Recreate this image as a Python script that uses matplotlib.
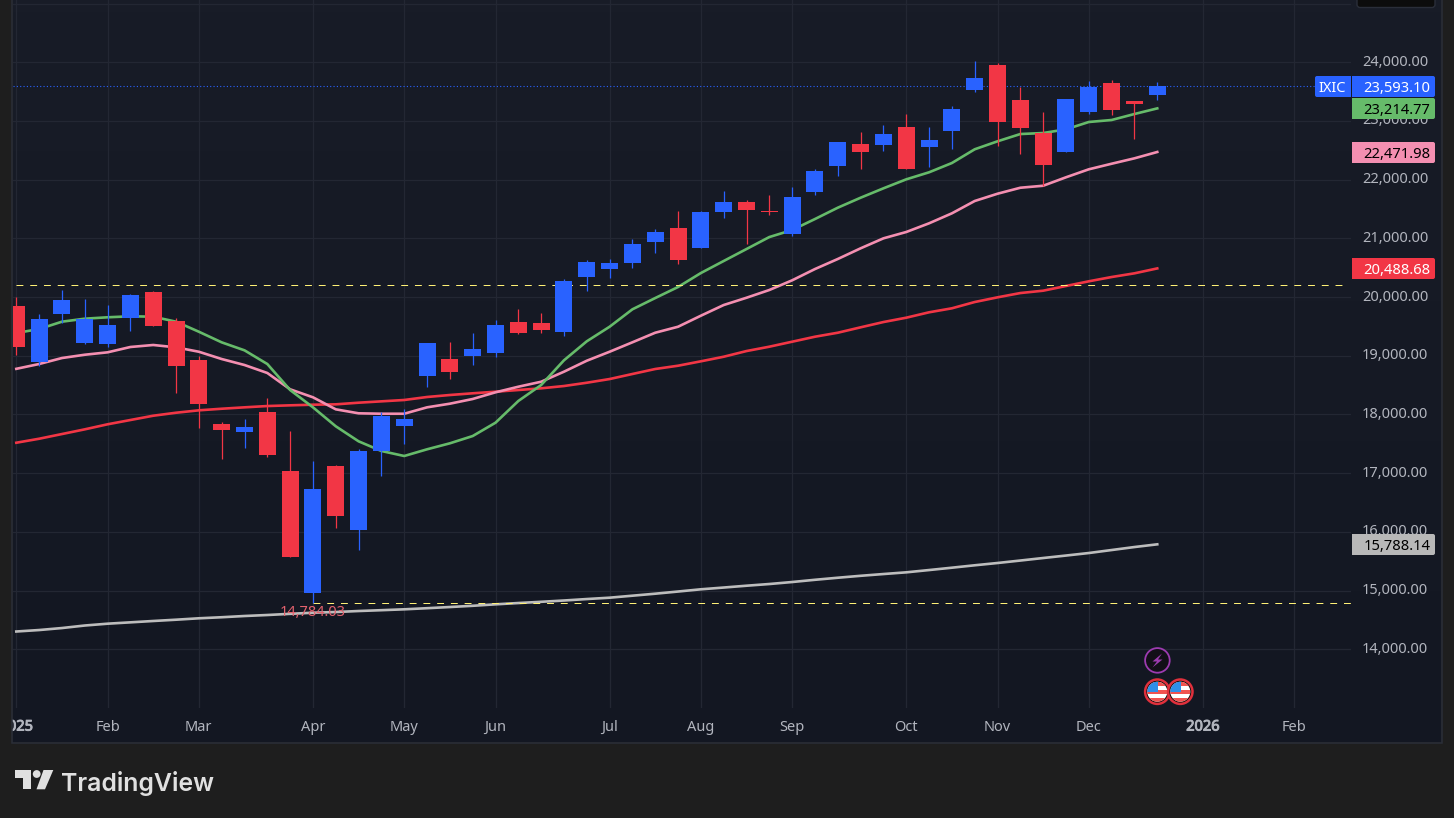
import numpy as np
import matplotlib
matplotlib.use("Agg")
import matplotlib.pyplot as plt
import matplotlib.patheffects as pe
from matplotlib.patches import Rectangle, Circle, Polygon, FancyBboxPatch

# candles
opens = [19848, 18894, 19712, 19218, 19201, 19644, 20086, 19592, 18928, 17838, 17701, 18042, 17037,
         14959, 17122, 16032, 17378, 17804, 18655, 18945, 18996, 19047, 19575, 19558, 19405, 20342,
         20478, 20581, 20938, 21177, 20836, 21449, 21620, 21466, 21075, 21790, 22233, 22608, 22591,
         22897, 22557, 22829, 23528, 23954, 23357, 22795, 22472, 23153, 23647, 23340, 23443]
closes = [19150, 19627, 19950, 19627, 19524, 20035, 19507, 18826, 18178, 17736, 17787, 17310, 15572,
          16730, 16270, 17378, 17974, 17923, 19218, 18724, 19115, 19524, 19388, 19439, 20274, 20598,
          20581, 20904, 21109, 20632, 21449, 21620, 21483, 21449, 21705, 22148, 22642, 22472, 22778,
          22182, 22676, 23204, 23732, 22983, 22880, 22250, 23374, 23579, 23187, 23289, 23593.10]
highs = [19996, 19712, 20121, 19967, 19865, 20052, 20104, 19644, 18996, 17872, 17923, 18281, 17718,
         17207, 17139, 17412, 18042, 18093, 19218, 19235, 19388, 19609, 19797, 19729, 20308, 20632,
         20649, 20989, 21160, 21466, 21466, 21807, 21654, 21739, 21875, 22182, 22642, 22812, 22931,
         23119, 22897, 23255, 24022, 23988, 23579, 23153, 23374, 23681, 23698, 23340, 23664]
lows = [19013, 18826, 19553, 19201, 19150, 19422, 19507, 18366, 17770, 17241, 17429, 17276, 15572,
        14784.03, 16066, 15691, 16952, 17497, 18468, 18604, 18843, 18979, 19371, 19388, 19337, 20104,
        20325, 20495, 20751, 20563, 20836, 21347, 20904, 21398, 21041, 21739, 22063, 22182, 22489,
        22182, 22216, 22523, 23494, 22574, 22437, 21892, 22472, 23119, 23102, 22693, 23357]

# moving averages
ma_green = [19388, 19456, 19581, 19632, 19656, 19673, 19666, 19581, 19410, 19229, 19093, 18860, 18417,
            18122, 17799, 17543, 17378, 17293, 17407, 17509, 17633, 17860, 18230, 18502, 18923, 19247,
            19495, 19792, 19984, 20172, 20410, 20615, 20819, 21023, 21143, 21330, 21523, 21693, 21853,
            22006, 22126, 22284, 22518, 22654, 22778, 22795, 22858, 22983, 23017, 23119, 23214.77]
ma_pink = [18778, 18860, 18962, 19018, 19059, 19150, 19184, 19144, 19069, 18945, 18843, 18707, 18429,
           18293, 18088, 18020, 18013, 18013, 18122, 18184, 18264, 18378, 18473, 18558, 18729, 18916,
           19069, 19230, 19393, 19495, 19683, 19865, 19989, 20121, 20286, 20478, 20649, 20831, 21001,
           21109, 21257, 21427, 21637, 21761, 21863, 21897, 22041, 22177, 22272, 22364, 22471.98]
ma_red = [17519, 17587, 17667, 17747, 17833, 17906, 17979, 18030, 18071, 18098, 18122, 18144, 18156,
          18167, 18173, 18201, 18224, 18247, 18298, 18332, 18361, 18388, 18417, 18446, 18485, 18541,
          18604, 18690, 18775, 18831, 18906, 18984, 19081, 19155, 19240, 19325, 19393, 19485, 19575,
          19649, 19741, 19809, 19916, 19996, 20069, 20109, 20189, 20269, 20342, 20405, 20488.68]
ma_white = [14303, 14328, 14362, 14405, 14436, 14459, 14482, 14504, 14528, 14546, 14567, 14584, 14604,
            14623, 14635, 14652, 14666, 14681, 14700, 14720, 14741, 14766, 14788, 14809, 14831, 14856,
            14879, 14913, 14947, 14984, 15022, 15052, 15083, 15112, 15146, 15184, 15219, 15252, 15282,
            15311, 15350, 15390, 15431, 15470, 15512, 15555, 15597, 15640, 15691, 15742, 15788.14]

price_ticks = [14000, 15000, 16000, 17000, 18000, 19000, 20000, 21000, 22000, 23000, 24000, 25000]
month_pos = [0, 4, 8, 13, 17, 21, 26, 30, 34, 39, 43, 47, 52, 56]
month_labels = ["2025", "Feb", "Mar", "Apr", "May", "Jun", "Jul", "Aug", "Sep", "Oct", "Nov", "Dec", "2026", "Feb"]

last_price = 23593.10
low_level = 14784.03
high_level = 20201

BLUE = "#2962ff"
RED = "#f23645"
GREEN = "#66bb6a"
PINK = "#f48fb1"
GREY = "#bdbdbd"
TEXT = "#b2b5be"
GRID = "#232733"
YELLOW = "#fff176"
OUTER = "#1e1e1e"
BORDER = "#2a2e39"
FONT = "Noto Sans"

W, H = 1454, 818
fig = plt.figure(figsize=(W / 100, H / 100), dpi=100, facecolor=OUTER)


def frame(x0, y0, x1, y1):
    return [x0 / W, 1 - y1 / H, (x1 - x0) / W, (y1 - y0) / H]


# panel with its slight gradient
bg = fig.add_axes(frame(13, 0, 1441, 742), zorder=-1)
bg.imshow(np.linspace(0, 1, 64).reshape(-1, 1), aspect="auto",
          cmap=matplotlib.colors.LinearSegmentedColormap.from_list("p", ["#181c27", "#131722"]))
bg.axis("off")

ax = fig.add_axes(frame(13, 0, 1351, 708), facecolor="none")
ax.set_xlim(-0.145, 58.49)
ax.set_ylim(12999.8, 25061.3)
for s in ax.spines.values():
    s.set_visible(False)
ax.set_axisbelow(True)
ax.grid(True, color=GRID, lw=0.9)
ax.yaxis.tick_right()
ax.set_yticks(price_ticks)
# the 25,000 label sits under the box at the top
ax.set_yticklabels(["{:,.2f}".format(p) if p < 25000 else "" for p in price_ticks],
                   fontname=FONT, fontsize=10.5, color=TEXT, va="center")
ax.set_xticks(month_pos)
ax.set_xticklabels(month_labels, fontname=FONT, fontsize=10.5, color=TEXT)
for lab in ax.get_xticklabels():
    if lab.get_text() in ("2025", "2026"):
        lab.set_path_effects([pe.withStroke(linewidth=0.7, foreground=TEXT)])
ax.tick_params(axis="y", length=0, pad=7.9)
ax.tick_params(axis="x", length=0, pad=8.3)

idx = np.arange(len(opens))
o = np.array(opens)
c = np.array(closes)
colors = [BLUE if c[i] > o[i] else RED for i in idx]

# moving averages go under the candles
ax.plot(idx, ma_white, color=GREY, lw=1.9, zorder=2)
ax.plot(idx, ma_red, color=RED, lw=1.9, zorder=2)
ax.plot(idx, ma_pink, color=PINK, lw=1.9, zorder=2)
ax.plot(idx, ma_green, color=GREEN, lw=1.9, zorder=2)

ax.vlines(idx, lows, highs, colors=colors, lw=0.9, zorder=3)
ax.bar(idx, np.abs(c - o), bottom=np.minimum(o, c), width=0.745, color=colors, lw=0, zorder=3)

# high / low and last price lines
ax.plot([0, 58.2], [high_level, high_level], color=YELLOW, lw=0.72, dashes=(6.87, 6.87), zorder=2.5)
ax.plot([13, 58.49], [low_level, low_level], color=YELLOW, lw=0.72, dashes=(6.87, 6.87), zorder=2.5)
ax.plot([-0.145, 56.9], [last_price, last_price], color=BLUE, lw=0.8, dashes=(1, 2), zorder=2.5)

ax.annotate("14,784.03", xy=(13, low_level), xytext=(0, -1.6), textcoords="offset points",
            ha="center", va="top", fontname=FONT, fontsize=10.5, color="#e4626e", zorder=6)

# everything below sits in pixel coordinates: frame, tags, icons, logo
top = fig.add_axes([0, 0, 1, 1], facecolor="none", zorder=10)
top.set_xlim(0, W)
top.set_ylim(H, 0)
top.axis("off")


def price_tag(value, face, txt):
    y_px = H - ax.transData.transform((0, value))[1]
    y0 = round(y_px - 10)
    top.add_patch(Rectangle((1352, y0), 40, 21, fc=face, ec="none"))
    top.add_patch(FancyBboxPatch((1370, y0), 65, 21, boxstyle="round,pad=0,rounding_size=2", fc=face, ec="none"))
    top.text(1430.5, y0 + 10.5, "{:,.2f}".format(value), ha="right", va="center_baseline",
             fontname=FONT, fontsize=10.6, color=txt)
    return y0


y_last = price_tag(last_price, BLUE, "white")
price_tag(ma_green[-1], GREEN, "black")
price_tag(ma_pink[-1], PINK, "black")
price_tag(ma_red[-1], RED, "white")
price_tag(ma_white[-1], "#b8b8b8", "black")

top.add_patch(FancyBboxPatch((1315, y_last), 36, 21, boxstyle="round,pad=0,rounding_size=2", fc=BLUE, ec="none"))
top.add_patch(Rectangle((1340, y_last), 11, 21, fc=BLUE, ec="none"))
top.text(1332.5, y_last + 10.5, "IXIC", ha="center", va="center_baseline", fontname=FONT,
         fontsize=10.5, color="white")

top.add_patch(Rectangle((0, 0), 12, 743, fc=OUTER, ec="none"))
top.add_patch(Rectangle((12, -5), 1430, 748, fc="none", ec=BORDER, lw=1.1))
top.add_patch(FancyBboxPatch((1357, -12), 78, 19.5, boxstyle="round,pad=0,rounding_size=3",
                             fc="#0c0c0c", ec=BORDER, lw=1))

# event icons
top.add_patch(Circle((1157.4, 660.4), 12.3, fc="#120f18", ec="#9c3bb0", lw=1.3))
top.add_patch(Polygon([(1162, 653.5), (1152.5, 661.5), (1157, 661.5), (1152.5, 667.5), (1162.5, 659.5), (1158, 659.5)],
                      fc="#9c3bb0", ec="none"))
for cx in (1157.3, 1180.3):
    cy = 691.7
    top.add_patch(Circle((cx, cy), 12.2, fc="#0c0c0c", ec="#e0303c", lw=1.8))
    disc = Circle((cx, cy), 10, fc="white", ec="none")
    top.add_patch(disc)
    for y0 in (-10, -2, 6):
        st = Rectangle((cx - 10, cy + y0), 20, 4, fc="#f05350", ec="none")
        top.add_patch(st)
        st.set_clip_path(disc)
    canton = Rectangle((cx - 10, cy - 10), 10.5, 10.5, fc="#2f8fe8", ec="none")
    top.add_patch(canton)
    canton.set_clip_path(disc)

# logo
top.add_patch(Polygon([(15.3, 770), (30.7, 770), (30.7, 789.3), (22.7, 789.3), (22.7, 777.5), (15.3, 777.5)],
                      fc="#e0e0e0", ec="none"))
top.add_patch(Circle((36.7, 774), 3.9, fc="#e0e0e0", ec="none"))
top.add_patch(Polygon([(43.5, 770), (53.3, 770), (45, 789.3), (36.5, 789.3)], fc="#e0e0e0", ec="none"))
top.text(61.5, 780.5, "TradingView", fontname="Inter", fontweight="semibold", fontsize=17.9,
         color="#e0e0e0", ha="left", va="center_baseline")

fig.savefig("out.png", dpi=100, facecolor=OUTER)
